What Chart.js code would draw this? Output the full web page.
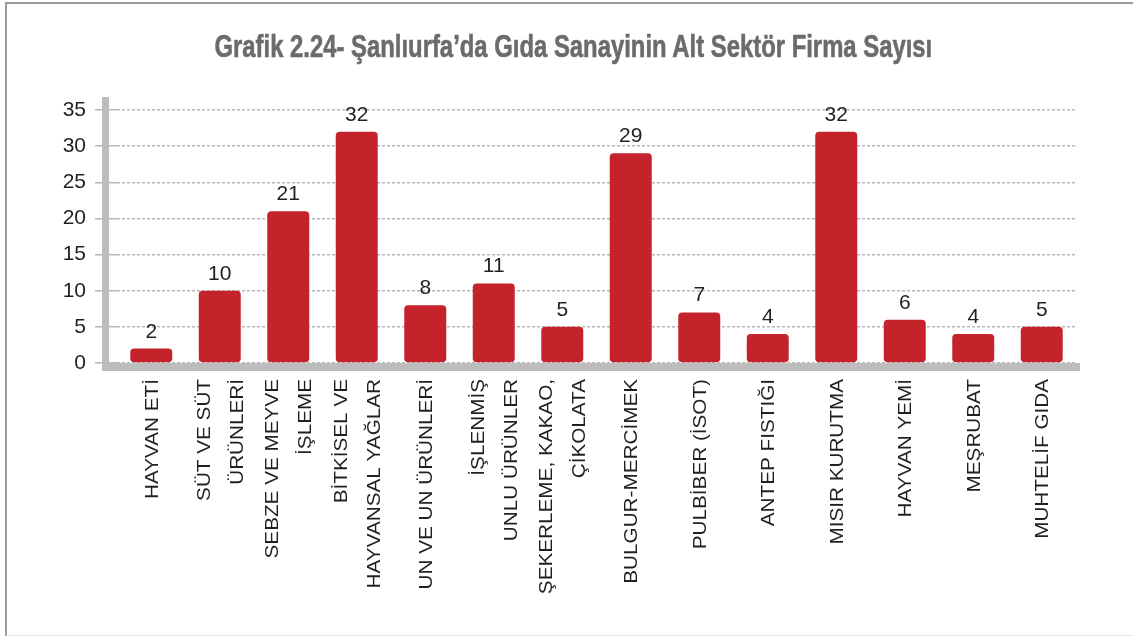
<!DOCTYPE html>
<html>
<head>
<meta charset="utf-8">
<script src="https://cdn.jsdelivr.net/npm/chart.js@4"></script>
<style>
body{margin:0;background:#fff;}
#frame{position:absolute;left:5px;top:2px;width:1140px;height:631px;border-left:2px solid #9a9a9a;border-top:2px solid #9a9a9a;border-bottom:1px solid #e2e2e2;}
#chart{position:absolute;left:0;top:0;}
#title{position:absolute;left:0;top:28px;width:1146px;text-align:center;font:bold 32px 'Liberation Sans',Arial,sans-serif;line-height:36px;color:#6a6b6d;white-space:nowrap;-webkit-text-stroke:0.6px #6a6b6d;}
#title span{display:inline-block;transform-origin:50% 50%;}
</style>
</head>
<body>
<div id="frame"></div>
<canvas id="chart" width="1133" height="636"></canvas>
<div id="title"><span id="titleText"></span></div>
<script>
// data
const categories = [
['HAYVAN ETİ'],
['SÜT VE SÜT','ÜRÜNLERİ'],
['SEBZE VE MEYVE','İŞLEME'],
['BİTKİSEL VE','HAYVANSAL YAĞLAR'],
['UN VE UN ÜRÜNLERİ'],
['İŞLENMİŞ','UNLU ÜRÜNLER'],
['ŞEKERLEME, KAKAO,','ÇİKOLATA'],
['BULGUR-MERCİMEK'],
['PULBİBER (İSOT)'],
['ANTEP FISTIĞI'],
['MISIR KURUTMA'],
['HAYVAN YEMİ'],
['MEŞRUBAT'],
['MUHTELİF GIDA']
];
const firms = [2,10,21,32,8,11,5,29,7,4,32,6,4,5];
const yTicks = [0,5,10,15,20,25,30,35];
const title = "Grafik 2.24- Şanlıurfa’da Gıda Sanayinin Alt Sektör Firma Sayısı";

const FONT = "'Liberation Sans', Arial, sans-serif";

// title: condensed look by squeezing to the reference width
let tt = document.getElementById('titleText');
tt.textContent = title;
tt.style.transform = 'scaleX(' + (718 / tt.offsetWidth) + ')';

// thick grey axis lines
const axisBars = {
id:'axisBars',
beforeDatasetsDraw(c){
let a=c.chartArea, ctx=c.ctx;
ctx.save();
ctx.fillStyle='#bdbdbd';
ctx.fillRect(a.left-15, a.top-13, 7, a.bottom-a.top+21);
ctx.fillRect(a.left-15, a.bottom, a.right+4-(a.left-15), 8);
ctx.restore();
}
};

// value labels above the bars
const valueLabels = {
id:'valueLabels',
afterDatasetsDraw(c){
let ctx=c.ctx, meta=c.getDatasetMeta(0);
ctx.save();
ctx.font='21px '+FONT;
ctx.fillStyle='#231f20';
ctx.textAlign='center';
ctx.textBaseline='alphabetic';
meta.data.forEach((bar,i)=>ctx.fillText(String(firms[i]), bar.x, bar.y-11));
ctx.restore();
}
};

// vertical category labels, each group centred under its bar
const catLabels = {
id:'catLabels',
afterDraw(c){
let ctx=c.ctx, x=c.scales.x, a=c.chartArea;
let size=18, lh=33, cap=size*0.716;
ctx.save();
ctx.font=size+'px '+FONT;
ctx.fillStyle='#231f20';
ctx.textAlign='right';
ctx.textBaseline='alphabetic';
categories.forEach((lines,i)=>{
let px=x.getPixelForValue(i);
lines.forEach((t,j)=>{
let cx=px+(j-(lines.length-1)/2)*lh;
ctx.save();
ctx.translate(cx, a.bottom+16);
ctx.rotate(-Math.PI/2);
ctx.scale(1.15,1);
ctx.fillText(t, 0, cap/2);
ctx.restore();
});
});
ctx.restore();
}
};

chart = new Chart(document.getElementById('chart'),{
type:'bar',
data:{
labels:categories,
datasets:[{data:firms,backgroundColor:'#c4232b',borderRadius:4,borderSkipped:false,barPercentage:0.613,categoryPercentage:1}]
},
options:{
responsive:false,
animation:false,
layout:{padding:{left:0,right:57,top:110,bottom:273}},
plugins:{
legend:{display:false},
tooltip:{enabled:false},
title:{display:false}
},
scales:{
x:{
grid:{display:false},
border:{display:false},
ticks:{display:false},
afterFit(s){s.height=0;}
},
y:{
min:0,max:35,
afterBuildTicks(s){s.ticks=yTicks.map(v=>({value:v}));},
grid:{color:'#b8b8b8',lineWidth:1.5,tickLength:22,tickColor:'#b8b8b8'},
border:{display:false,dash:[3,2]},
ticks:{color:'#231f20',padding:9,font:{family:FONT,size:21}},
afterFit(s){s.width=117;}
}
}
},
plugins:[axisBars,valueLabels,catLabels]
});
</script>
</body>
</html>
